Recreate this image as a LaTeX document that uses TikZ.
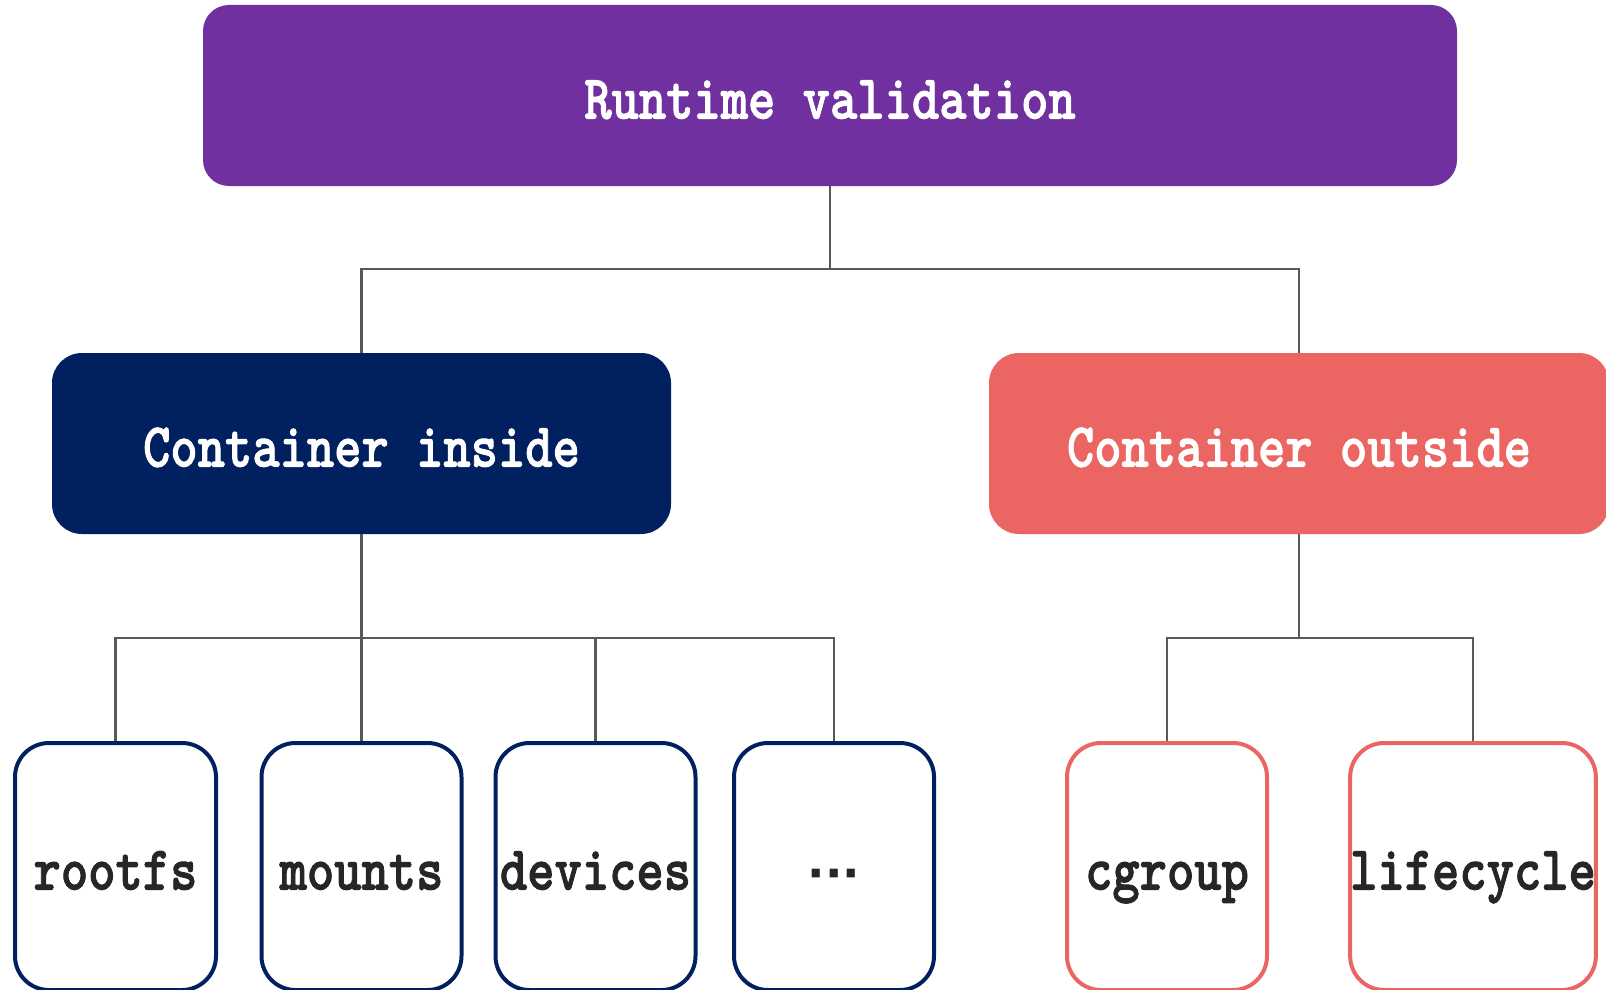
\documentclass[tikz,border=0pt]{standalone}
\usepackage{fontspec}
\newfontfamily\slabfont{lmmonolt10-bold}[Extension=.otf, FakeBold=1.6]
\newfontfamily\symfont{DejaVu Sans}
\usepackage{graphicx}

\definecolor{rootpurple}{HTML}{7030A0}
\definecolor{innavy}{HTML}{002060}
\definecolor{outcoral}{HTML}{EB6662}
\definecolor{leaftext}{HTML}{262626}
\definecolor{wire}{HTML}{5A5A55}

\newcommand{\tallmono}[1]{\scalebox{1}[1.2]{#1}}

\tikzset{
  labelfont/.style={font=\fontsize{52}{56}\selectfont\slabfont,
    text height=46pt, text depth=0pt, inner sep=0pt},
  headbox/.style={labelfont, rectangle, rounded corners=#1, text=white},
  leafbox/.style={labelfont, rectangle, rounded corners=34pt, draw=#1,
    line width=4pt, fill=white, text=leaftext,
    minimum width=200pt, minimum height=247pt},
  wireline/.style={draw=wire, line width=2.2pt},
}

\begin{document}
\begin{tikzpicture}[x=1pt, y=-1pt]
  \useasboundingbox (0,0) rectangle (1606,990);
  \clip (0,0) rectangle (1606,990);

  % top level
  \node[headbox=26pt, fill=rootpurple, minimum width=1254pt, minimum height=181pt]
    (root) at (830,95.5) {\tallmono{Runtime validation}};

  % second level
  \node[headbox=30pt, fill=innavy, minimum width=619pt, minimum height=181pt]
    (inside) at (361.5,443.5) {\tallmono{Container inside}};
  \node[headbox=30pt, fill=outcoral, minimum width=620pt, minimum height=181pt]
    (outside) at (1299,443.5) {\tallmono{Container outside}};

  % leaves
  \node[leafbox=innavy, minimum width=201pt] (rootfs)  at (115.5,866.5) {\tallmono{rootfs}};
  \node[leafbox=innavy] (mounts)  at (361.5,866.5) {\tallmono{mounts}};
  \node[leafbox=innavy] (devices) at (595.5,866.5) {\tallmono{devices}};
  \node[leafbox=innavy] (more)    at (834,866.5)   {\symfont\fontsize{46}{50}\selectfont\bfseries ···};
  \node[leafbox=outcoral] (cgroup)    at (1167,866.5) {\tallmono{cgroup}};
  \node[leafbox=outcoral, minimum width=238pt] (lifecycle) at (1473,866.5) {\tallmono{lifecycle}};

  % connectors
  \coordinate (rootbus) at ([yshift=-83pt]root.south);
  \coordinate (inbus)   at ([yshift=-104pt]inside.south);
  \coordinate (outbus)  at ([yshift=-104pt]outside.south);

  \path[wireline] (root.south) -- (rootbus) -| (inside.north);
  \path[wireline] (rootbus) -| (outside.north);

  \path[wireline] (inside.south) -- (inbus) -| (rootfs.north);
  \path[wireline] (inbus) -- (mounts.north);
  \path[wireline] (inbus) -| (devices.north);
  \path[wireline] (inbus) -| (more.north);

  \path[wireline] (outside.south) -- (outbus) -| (cgroup.north);
  \path[wireline] (outbus) -| (lifecycle.north);
\end{tikzpicture}
\end{document}
